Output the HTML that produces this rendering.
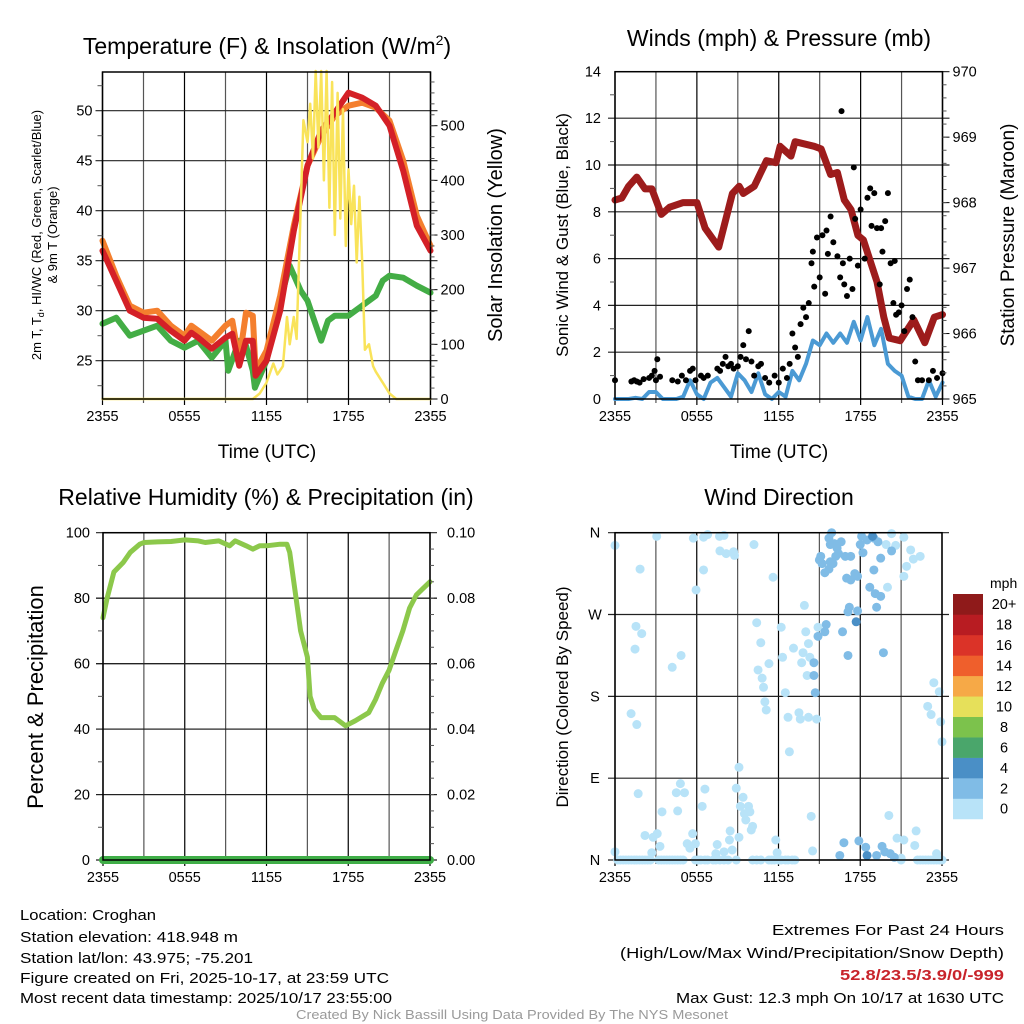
<!DOCTYPE html>
<html><head><meta charset="utf-8"><style>
html,body{margin:0;padding:0;background:#fff;}
svg{display:block;font-family:"Liberation Sans",sans-serif;}
</style></head><body>
<svg id="fig" width="1024" height="1024" viewBox="0 0 1024 1024" xmlns="http://www.w3.org/2000/svg">
<g id="g-grid"></g>
<g id="g-data"></g>
<g id="g-axes"></g>
<g id="g-text">
<text x="267" y="54" font-size="23" text-anchor="middle">Temperature (F) &amp; Insolation (W/m<tspan font-size="14" dy="-9">2</tspan><tspan dy="9">)</tspan></text>
<text x="779" y="46" font-size="23" text-anchor="middle">Winds (mph) &amp; Pressure (mb)</text>
<text x="266" y="505" font-size="23" text-anchor="middle">Relative Humidity (%) &amp; Precipitation (in)</text>
<text x="779" y="505" font-size="23" text-anchor="middle">Wind Direction</text>
<text x="267" y="458" font-size="19" text-anchor="middle">Time (UTC)</text>
<text x="779" y="458" font-size="19" text-anchor="middle">Time (UTC)</text>
<text transform="translate(41,235) rotate(-90)" font-size="13" text-anchor="middle">2m T, T<tspan font-size="9" dy="3">d</tspan><tspan dy="-3">, HI/WC (Red, Green, Scarlet/Blue)</tspan></text>
<text transform="translate(57,235) rotate(-90)" font-size="13" text-anchor="middle">&amp; 9m T (Orange)</text>
<text transform="translate(502,235) rotate(-90)" font-size="20" text-anchor="middle">Solar Insolation (Yellow)</text>
<text transform="translate(568,235) rotate(-90)" font-size="17" text-anchor="middle">Sonic Wind &amp; Gust (Blue, Black)</text>
<text transform="translate(1014,235) rotate(-90)" font-size="19" text-anchor="middle">Station Pressure (Maroon)</text>
<text transform="translate(43,697) rotate(-90)" font-size="22" text-anchor="middle">Percent &amp; Precipitation</text>
<text transform="translate(568,697) rotate(-90)" font-size="17" text-anchor="middle">Direction (Colored By Speed)</text>
<text x="990" y="588" font-size="14">mph</text>
<g font-size="14.5">
<text x="20" y="920" textLength="136" lengthAdjust="spacingAndGlyphs">Location: Croghan</text>
<text x="20" y="942" textLength="218" lengthAdjust="spacingAndGlyphs">Station elevation: 418.948 m</text>
<text x="20" y="963" textLength="233" lengthAdjust="spacingAndGlyphs">Station lat/lon: 43.975; -75.201</text>
<text x="20" y="983" textLength="369" lengthAdjust="spacingAndGlyphs">Figure created on Fri, 2025-10-17, at 23:59 UTC</text>
<text x="20" y="1003" textLength="372" lengthAdjust="spacingAndGlyphs">Most recent data timestamp: 2025/10/17 23:55:00</text>
<text x="1004" y="935" text-anchor="end" textLength="232" lengthAdjust="spacingAndGlyphs">Extremes For Past 24 Hours</text>
<text x="1004" y="958" text-anchor="end" textLength="384" lengthAdjust="spacingAndGlyphs">(High/Low/Max Wind/Precipitation/Snow Depth)</text>
<text x="1004" y="980" text-anchor="end" font-weight="bold" fill="#c8242b" textLength="164" lengthAdjust="spacingAndGlyphs">52.8/23.5/3.9/0/-999</text>
<text x="1004" y="1003" text-anchor="end" textLength="328" lengthAdjust="spacingAndGlyphs">Max Gust: 12.3 mph On 10/17 at 1630 UTC</text>
</g>
<text x="512" y="1019" font-size="12.5" fill="#9a9a9a" text-anchor="middle" textLength="432" lengthAdjust="spacingAndGlyphs">Created By Nick Bassill Using Data Provided By The NYS Mesonet</text>
</g>
</svg>
<script>
// ---------- data ----------
const timeTickLabels = ["2355","0555","1155","1755","2355"];
const tempHours = [0,1,2,3,4,5,6,6.5,7,8,9,9.5,10,10.5,11,11.2,12,13,14,15,16,17,18,19,20,21,22,23,24];
const tempAir   = [36,33,30,29.3,29.2,28,27,27.8,27.3,26.2,27.3,27.7,24.5,27,27,23.5,25,30,38,44.5,48,49.8,51.8,51.3,50.5,48.5,44,38.5,36];
const temp9m    = [37,33.5,30.5,29.8,30,28.5,27.5,28.5,28,27,28.5,29,25,29.8,29.5,24,26,31.5,38.5,44.5,47.5,49.5,50.5,50.8,50.3,49,45,39.5,36.5];
const dewHours  = [0,1,2,3,4,5,6,7,8,9,9.2,10,10.5,11,11.15,12,13,13.7,14.5,15,15.5,16,16.5,17,18,19,20,20.5,21,22,23,24];
const dewPoint  = [28.7,29.3,27.5,28,28.5,27,26.3,27,25.3,27,24,27,26.5,24,22.3,25,31,34.5,32,31,29,27,29,29.5,29.5,30.5,31.5,33,33.5,33.3,32.5,31.8];
const solarHours = [0,11,11.5,12,12.5,12.8,13.2,13.5,13.7,14,14.2,14.5,14.7,15,15.2,15.4,15.6,15.8,16,16.2,16.4,16.6,16.8,17,17.2,17.4,17.6,17.8,18,18.2,18.4,18.6,18.8,19,19.2,19.5,19.8,20,20.5,21,21.5,24];
const solarVals  = [0,0,10,30,65,45,60,150,100,150,110,350,510,470,540,440,600,460,600,400,600,350,580,300,560,330,530,280,420,320,390,250,370,250,90,100,60,50,30,10,0,0];
const windHours = [0,0.5,1,1.5,2,2.5,3,3.5,4,4.5,5,5.5,6,6.5,7,7.5,8,8.5,9,9.5,10,10.5,11,11.5,12,12.5,13,13.5,14,14.5,15,15.5,16,16.5,17,17.5,18,18.5,19,19.5,20,20.5,21,21.5,22,22.5,23,23.5,24];
const windSpeed = [0,0,0,0.05,0,0.3,0.3,0,0,0,0.1,0.8,0.2,0,0.7,0.9,0.5,0.1,1.1,0.8,0.3,1.1,0.2,0,0.3,0.1,1.2,0.8,1.5,2.5,2.3,2.8,2.4,2.8,2.4,3.3,2.5,3.5,2.3,3.0,1.5,1.2,1.0,0.1,0,0,0.8,0.1,0.7];
const gustHours = [0,1.2,1.4,1.6,1.8,2.1,2.5,2.7,2.9,3.0,3.1,3.3,4.2,4.6,4.9,5.2,5.5,5.7,5.9,6.3,6.5,6.8,7.5,7.7,7.9,8.1,8.3,8.5,8.7,9.0,9.2,9.4,9.6,9.8,10.0,10.2,10.5,10.7,11.0,11.3,11.7,12.0,12.3,12.6,12.8,13.0,13.2,13.4,13.6,13.8,14.0,14.2,14.4,14.5,14.6,14.8,15.0,15.2,15.4,15.5,15.6,15.8,16.0,16.3,16.5,16.6,16.7,16.8,17.0,17.2,17.4,17.5,17.6,17.8,18.0,18.3,18.5,18.7,18.8,19.0,19.2,19.4,19.5,19.6,19.8,20.0,20.2,20.4,20.5,20.6,20.8,21.0,21.2,21.4,21.6,21.8,22.0,22.2,22.5,23.0,23.3,23.6,24];
const gustSpeed = [0.8,0.75,0.8,0.75,0.7,0.85,0.9,1.0,1.2,0.8,1.7,0.95,0.8,0.75,1.0,0.8,1.2,1.3,0.8,1.0,0.9,1.0,1.3,1.2,1.5,1.8,1.4,1.5,1.3,1.4,1.8,2.3,1.7,2.9,1.6,1.0,1.4,1.5,0.9,0.7,1.0,0.7,1.3,0.9,1.5,2.8,2.2,1.8,3.2,3.9,3.5,4.1,5.8,6.3,4.8,6.9,5.2,7.0,4.5,7.2,6.2,7.8,6.7,6.1,5.2,12.3,5.8,4.9,4.4,6.0,4.7,9.9,7.7,5.7,8.1,6.0,8.6,9.0,7.4,8.8,7.3,4.9,7.3,6.3,7.6,8.8,5.8,4.1,5.9,3.6,3.7,4.0,2.9,4.7,5.1,3.5,1.6,0.8,0.8,0.8,1.2,0.9,1.1];
const presHours = [0,0.5,1,1.6,2.2,2.7,3.4,4,5,6,6.6,7.6,8.6,9.1,9.4,10.2,11.1,11.8,12.1,12.9,13.2,14.6,15.1,15.8,16.3,16.8,17.3,17.8,18.2,18.7,19.2,19.7,20.1,20.9,21.9,22.7,23.4,24];
const pressure  = [968.04,968.07,968.25,968.39,968.21,968.21,967.82,967.93,968.0,968.0,967.61,967.32,968.14,968.25,968.14,968.25,968.64,968.61,968.86,968.71,968.93,968.86,968.82,968.43,968.46,968.04,967.89,967.5,967.43,967.11,966.79,966.25,965.93,965.89,966.21,965.86,966.25,966.29];
const rhHours = [0,0.3,0.8,1.5,2,2.7,3,4,5,6,7,7.5,8.5,9.3,9.7,10.5,11,11.5,12,13,13.5,13.7,14,14.5,15,15.2,15.5,16,17,17.8,18.5,19.5,20,20.5,21,21.5,22,22.5,23,23.5,24];
const rhVals  = [74,80,88,91,94,96.5,97,97.2,97.3,97.8,97.5,97,97.5,96,97.5,96,95,96,96,96.5,96.5,94,85,70,62,50,46,43.5,43.5,41,42.5,45,49,54,58,64,70,77,81,83,85];
const precipHours = [0,24];
const precipVals  = [0,0];
const dirHours = [0,3.06,1.84,5.75,6.5,6.8,6.5,5.95,7.67,8.0,7.7,8.16,8.7,8.77,10.2,11.6,13.9,1.54,1.96,1.47,4.85,4.2,1.18,1.6,10.4,10.7,10.5,10.8,11.3,10.9,11.0,11.1,12.2,12.3,12.5,12.7,12.8,13.1,13.8,13.7,14.0,14.2,14.3,14.1,13.5,13.6,14.2,14.8,14.9,9.1,23.4,22.95,23.2,23.8,23.9,24,20.0,20.6,20.3,21.2,21.4,21.7,21.9,22.4,21.2,19.9,
 1.7,4.8,4.5,5.1,6.6,6.4,3.45,4.6,8.9,9.4,9.2,9.5,9.8,9.9,9.6,10.1,10.0,14.4,20.1,
 2.2,3.1,2.8,3.3,2.7,0,5.7,5.3,5.9,5.5,7.5,8.45,8.4,9.1,8.0,8.6,7.4,11.8,11.9,14.5,20.7,21.2,22,22.1,23.6,21,
 0.2,0.4,0.6,0.8,1.0,1.2,1.4,1.6,1.8,2.0,2.2,2.4,2.6,3.2,3.4,3.6,3.8,4.0,4.2,4.4,4.6,4.8,5.0,5.9,6.1,6.3,6.6,6.8,7.2,7.4,7.7,8.0,8.3,8.9,10.1,10.4,10.7,11.3,11.5,11.7,12.0,12.2,12.5,12.7,13.0,13.2,21.0,22.2,22.4,22.6,22.8,23.0,23.2,23.4,23.6,23.8,24,
 15.1,15.2,15.0,15.4,15.7,15.8,15.7,15.9,15.8,16.1,16.3,16.6,16.2,16.0,16.4,16.9,17.3,17.0,17.3,17.6,17.8,18.0,18.1,18.2,18.5,19.0,19.3,19.0,19.5,18.7,19.1,19.5,19.2,20.3,17.2,17.1,17.8,15.5,15.4,14.9,16.7,17.1,19.7,14.6,14.6,14.7,
 16.5,16.8,17.9,18.4,19.2,19.6,19.8,20.2,20.5,
 17.7,18.9,18.5];
const dirDegrees = [346,356,320,354,355,358,319,297,356,357,340,337,339,335,347,311,280,257,249,232,225,212,161,149,261,239,209,200,216,190,174,165,256,223,184,157,119,233,228,217,251,238,223,203,162,155,157,155,256,102,195,169,160,185,152,130,300,346,359,312,323,341,331,334,355,347,
 73,84,74,74,78,59,53,54,79,69,59,51,59,53,44,37,33,48,49,
 27,29,25,15,8,9,29,18,18,13,17,32,22,25,9,11,7,22,8,10,24,22,16,32,7,2,
 0,0,0,0,0,0,0,0,0,0,0,0,0,0,0,0,0,0,0,0,0,0,0,0,0,0,0,0,0,0,0,0,0,0,0,0,0,0,0,0,0,0,0,0,0,0,0,0,0,0,0,0,0,0,0,0,0,
 334,326,330,316,320,328,354,360,347,348,343,350,334,326,337,334,334,310,308,315,312,347,356,338,352,354,350,319,332,300,293,290,278,340,278,273,274,259,251,246,251,225,228,217,203,184,
 5,19,21,14,5,15,9,7,3,
 262,356,5];
const dirSpeeds = [].concat(new Array(66).fill(0.8), new Array(19).fill(0.8), new Array(26).fill(0.8), new Array(57).fill(0.5), new Array(46).fill(2.8), new Array(9).fill(3.0), new Array(3).fill(4.5));
const cbLabels = ["0","2","4","6","8","10","12","14","16","18","20+"];
const cbColors = ["#b8e3f8","#80bce6","#4a8fc6","#4aa66b","#7cc24c","#e6e05a","#f6a947","#ef5f2c","#db3328","#b81c22","#8f1a1a"];

// ---------- helpers ----------
const NS="http://www.w3.org/2000/svg";
const gGrid=document.getElementById('g-grid'), gData=document.getElementById('g-data'), gAxes=document.getElementById('g-axes');
function mk(tag, attrs, parent){const e=document.createElementNS(NS,tag);for(const k in attrs)e.setAttribute(k,attrs[k]);parent.appendChild(e);return e;}
function panel(x0,x1,y0,y1){return {x0,x1,y0,y1,xs:h=>x0+h*(x1-x0)/24};}
const P1=panel(102.5,430.5,72,399), P2=panel(615,942.5,71.7,399), P3=panel(103,430,532.7,860), P4=panel(615,942,532.7,860);
const yT=v=>360.7-(v-25)*10, yS=v=>399-v*0.5466;
const yW=v=>399-v*23.4, yP=v=>399-(v-965)*65.46;
const yRH=v=>860-v*3.273, yPr=v=>860-v*3273;
const yDir=v=>860-v*(327.3/360);

function gridAndFrame(P, hLines, name){
  for(let i=0;i<=8;i++){
    const x=P.x0+i*(P.x1-P.x0)/8;
    const l=mk('line',{x1:x,x2:x,y1:P.y0,y2:P.y1+(i%2==0?6:4),stroke:(i%2==0?'#000':'#555'),'stroke-width':1.2},gGrid);
    
    
  }
  hLines.forEach(y=>{
    const l=mk('line',{x1:P.x0-7,x2:P.x1+7,y1:y,y2:y,stroke:'#222','stroke-width':1.2},gGrid);
    
    
  });
  const r=mk('rect',{x:P.x0,y:P.y0,width:P.x1-P.x0,height:P.y1-P.y0,fill:'none',stroke:'#000','stroke-width':1.5},gAxes);
  
  
  timeTickLabels.forEach((t,i)=>{
    const tx=mk('text',{x:P.x0+i*(P.x1-P.x0)/4,y:P.y1+22,'font-size':14.5,'text-anchor':'middle'},gAxes);
    tx.textContent=t;
    
    
  });
}
function ytext(x,y,s,anchor,name){
  const t=mk('text',{x:x,y:y+5,'font-size':14.5,'text-anchor':anchor},gAxes);t.textContent=s;
  
  
}
function minor(x,y,len){mk('line',{x1:x,x2:x+len,y1:y,y2:y,stroke:'#555','stroke-width':1},gAxes);}
function poly(P,hs,vs,yf,color,w,name){
  const pts=hs.map((h,i)=>P.xs(h).toFixed(1)+','+yf(vs[i]).toFixed(1)).join(' ');
  const p=mk('polyline',{points:pts,fill:'none',stroke:color,'stroke-width':w,'stroke-linejoin':'round','stroke-linecap':'round'},gData);
  
  
  return p;
}

// ---------- panel 1 ----------
gridAndFrame(P1,[25,30,35,40,45,50].map(yT),'temp');
[25,30,35,40,45,50].forEach(v=>ytext(P1.x0-10,yT(v),String(v),'end','temp-y-tick-label'));
for(let v=22.5;v<54;v+=5)minor(P1.x0-5,yT(v),5);
[0,100,200,300,400,500].forEach(v=>{ytext(P1.x1+10,yS(v),String(v),'start','solar-y-tick-label');mk('line',{x1:P1.x1,x2:P1.x1+7,y1:yS(v),y2:yS(v),stroke:'#000'},gAxes);});
for(let v=20;v<600;v+=20)minor(P1.x1,yS(v),4);
poly(P1,dewHours,dewPoint,yT,'#43ad45',6,'dewpoint-line');
poly(P1,tempHours,temp9m,yT,'#f47f2e',6,'temp-9m-line');
poly(P1,tempHours,tempAir,yT,'#d42027',6,'temp-2m-line');
poly(P1,solarHours,solarVals,yS,'#f9e35a',2.5,'solar-line');

// ---------- panel 2 ----------
gridAndFrame(P2,[2,4,6,8,10,12].map(yW),'wind');
[0,2,4,6,8,10,12,14].forEach(v=>ytext(P2.x0-14,yW(v),String(v),'end','wind-y-tick-label'));
for(let v=1;v<14;v+=2)minor(P2.x0-5,yW(v),5);
[965,966,967,968,969,970].forEach(v=>{ytext(P2.x1+10,yP(v),String(v),'start','pressure-y-tick-label');mk('line',{x1:P2.x1,x2:P2.x1+7,y1:yP(v),y2:yP(v),stroke:'#000'},gAxes);});
for(let v=965.2;v<970;v+=0.2)minor(P2.x1,yP(v),4);
poly(P2,presHours,pressure,yP,'#9d1c1c',7,'pressure-line');
poly(P2,windHours,windSpeed,yW,'#4b9ad4',4,'wind-speed-line');
gustHours.forEach((h,i)=>{
  const c=mk('circle',{cx:P2.xs(h),cy:yW(gustSpeed[i]),r:3,fill:'#000'},gData);
  
  
});

// ---------- panel 3 ----------
gridAndFrame(P3,[20,40,60,80].map(yRH),'rh');
[0,20,40,60,80,100].forEach(v=>{ytext(P3.x0-13,yRH(v),String(v),'end','rh-y-tick-label');mk('line',{x1:P3.x0-7,x2:P3.x1+7,y1:yRH(v),y2:yRH(v),stroke:'#222','stroke-width':1.2},gGrid);});
for(let v=10;v<100;v+=20)minor(P3.x0-5,yRH(v),5);
[0,0.02,0.04,0.06,0.08,0.10].forEach(v=>ytext(P3.x1+17,yPr(v),v.toFixed(2),'start','precip-y-tick-label'));
for(let v=0.005;v<0.1;v+=0.005)minor(P3.x1,yPr(v),4);
poly(P3,rhHours,rhVals,yRH,'#8cc84b',5,'rh-line');
poly(P3,precipHours,precipVals,yPr,'#3fae47',8,'precip-line');

// ---------- panel 4 ----------
gridAndFrame(P4,[90,180,270].map(yDir),'direction');
["N","E","S","W","N"].forEach((s,i)=>ytext(P4.x0-20,yDir(i*90),s,'middle','direction-y-tick-label'));
mk('line',{x1:P4.x0-7,x2:P4.x1+7,y1:yDir(0),y2:yDir(0),stroke:'#222','stroke-width':1.2},gGrid);
mk('line',{x1:P4.x0-7,x2:P4.x1+7,y1:yDir(360),y2:yDir(360),stroke:'#222','stroke-width':1.2},gGrid);
function spdColor(s){let i=Math.min(10,Math.floor(s/2));return cbColors[i];}
dirHours.forEach((h,i)=>{
  const c=mk('circle',{cx:P4.xs(h),cy:yDir(dirDegrees[i]),r:4.5,fill:spdColor(dirSpeeds[i])},gData);
  
  
});
// colorbar
const cbTop=594, cbH=20.45;
cbColors.forEach((col,i)=>{
  const y=cbTop+(10-i)*cbH;
  const r=mk('rect',{x:953,y:y,width:30,height:cbH+0.3,fill:col},gAxes);
  
  
  const t=mk('text',{x:1004,y:y+cbH/2+5,'font-size':14.5,'text-anchor':'middle'},gAxes);
  t.textContent=cbLabels[i];
  
  
});
</script>
</body></html>
